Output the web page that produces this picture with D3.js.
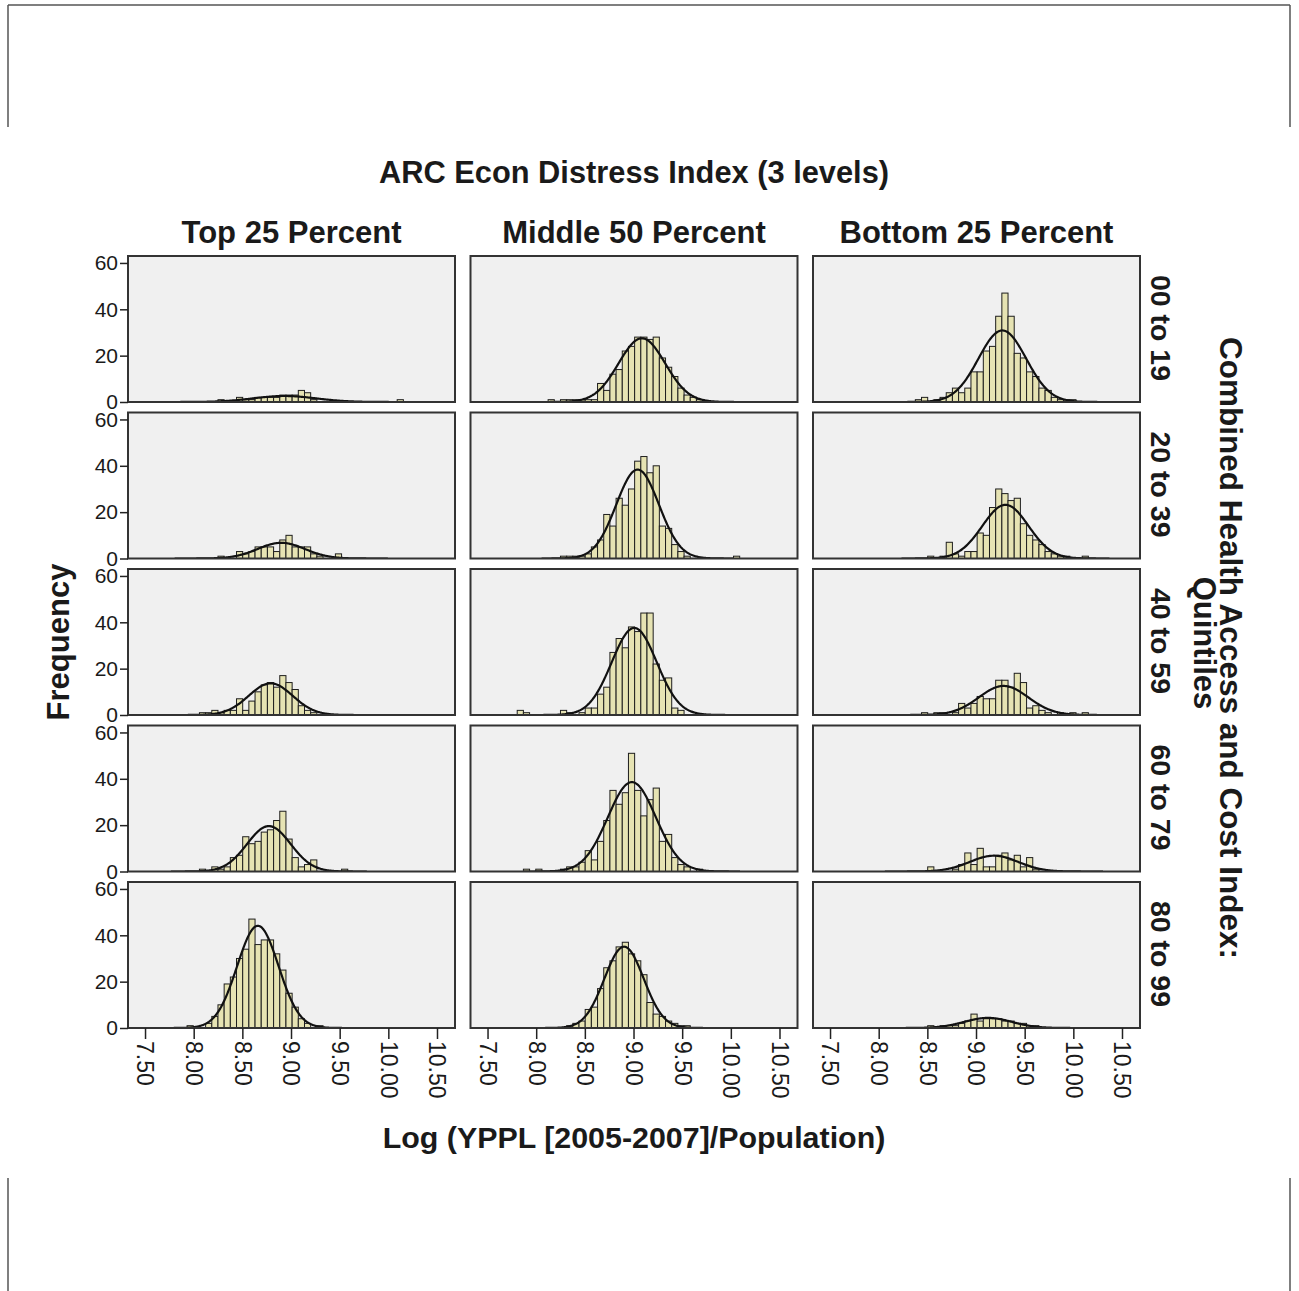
<!DOCTYPE html>
<html>
<head>
<meta charset="utf-8">
<script src="https://cdn.jsdelivr.net/npm/d3@7"></script>
<style>
  body { margin: 0; background: #fff; }
  svg text { font-family: "Liberation Sans", Arial, sans-serif; fill: #1a1a1a; }
</style>
</head>
<body>
<div id="chart"></div>
<script>
// histogram bins are shared by all panels
var binStart = 7.805, binWidth = 0.0635;

var colLabels = ["Top 25 Percent", "Middle 50 Percent", "Bottom 25 Percent"];
var rowLabels = ["00 to 19", "20 to 39", "40 to 59", "60 to 79", "80 to 99"];
var xTicks = [7.5, 8, 8.5, 9, 9.5, 10, 10.5];
var yTicks = [0, 20, 40, 60];

// counts per bin, starting at bin 0 (missing trailing bins = 0)
var r1c1 = [0,0,0,0,0,0,0,1,0,0,2,1,1,2,2,2,2,3,3,3,5,4,1,0,0,0,0,0,0,0,0,0,0,0,0,0,1];
var r1c2 = [0,0,0,0,0,1,0,1,1,1,1,1,1,8,5,12,14,22,24,28,28,27,28,19,15,11,6,3,2,1];
var r1c3 = [0,0,0,0,0,0,0,0,0,1,2,0,1,2,4,6,4,6,13,13,22,24,37,47,37,21,19,13,11,6,5,2,1,1,1];
var r2c1 = [0,0,0,0,0,0,0,1,0,0,3,2,3,5,5,5,3,8,10,5,5,5,2,1,0,0,2];
var r2c2 = [0,0,0,0,0,0,0,1,1,1,1,2,5,8,19,14,26,23,30,42,44,37,40,14,13,6,3,1,0,0,0,0,0,0,0,1];
var r2c3 = [0,0,0,0,0,0,0,0,0,0,0,1,0,1,7,2,1,3,3,11,10,22,30,28,25,26,15,10,8,6,3,2,1,1,0,0,1];
var r3c1 = [0,0,0,0,1,1,2,1,2,2,7,2,6,10,13,14,12,17,14,11,4,2,1];
var r3c2 = [2,1,0,0,0,0,0,2,1,0,1,3,3,9,12,27,33,29,38,36,44,44,22,15,16,3,2];
var r3c3 = [0,0,0,0,0,0,0,0,0,0,1,0,1,1,0,1,5,3,5,8,7,7,15,15,12,18,14,3,4,2,1,0,1,0,1,0,1];
var r4c1 = [0,0,0,0,1,0,2,1,2,6,7,15,12,13,17,18,22,26,14,6,2,3,5,0,0,0,0,1];
var r4c2 = [0,1,0,1,0,0,0,1,2,2,4,9,5,13,22,35,29,34,51,35,24,31,36,13,16,6,3,2,0,1];
var r4c3 = [0,0,0,0,0,0,0,0,0,0,0,2,0,0,0,1,3,8,3,10,2,2,7,8,5,7,2,6,1];
var r5c1 = [0,0,1,0,0,2,5,10,19,22,30,34,47,36,38,38,32,25,15,9,4,2,0,1];
var r5c2 = [0,0,0,0,0,0,0,0,1,2,3,8,9,17,26,29,35,37,32,29,23,11,6,5,3,2,1,1];
var r5c3 = [0,0,0,0,0,0,0,0,0,0,0,1,0,1,1,1,2,3,6,3,4,4,4,3,3,2,2,1,1];

var panels = [
  [r1c1, r1c2, r1c3],
  [r2c1, r2c2, r2c3],
  [r3c1, r3c2, r3c3],
  [r4c1, r4c2, r4c3],
  [r5c1, r5c2, r5c3]
];

var W = 1299, H = 1291;
var left0 = 128, stepX = 342.5, panelW = 327;
var top0 = 256, stepY = 156.5, panelH = 146;

var svg = d3.select("#chart").append("svg")
    .attr("width", W)
    .attr("height", H);

// outer frame pieces
var frame = svg.append("g").attr("stroke", "#555").attr("stroke-width", 1.5);
frame.append("line").attr("x1", 8).attr("y1", 5).attr("x2", 1290).attr("y2", 5);
frame.append("line").attr("x1", 8).attr("y1", 5).attr("x2", 8).attr("y2", 127);
frame.append("line").attr("x1", 1290).attr("y1", 5).attr("x2", 1290).attr("y2", 127);
frame.append("line").attr("x1", 8).attr("y1", 1178).attr("x2", 8).attr("y2", H);
frame.append("line").attr("x1", 1290).attr("y1", 1178).attr("x2", 1290).attr("y2", H);

var x = d3.scaleLinear().domain([7.325, 10.685]).range([0, panelW]);
var y = d3.scaleLinear().domain([0, 63]).range([panelH, 0]);

var line = d3.line()
    .x(function(d) { return x(d[0]); })
    .y(function(d) { return y(d[1]); });

svg.append("defs").append("clipPath").attr("id", "clip")
  .append("rect").attr("width", panelW).attr("height", panelH);

panels.forEach(function(row, r) {
  row.forEach(function(counts, c) {
    var g = svg.append("g")
        .attr("transform", "translate(" + (left0 + c * stepX) + "," + (top0 + r * stepY) + ")");

    g.append("rect")
        .attr("width", panelW)
        .attr("height", panelH)
        .attr("fill", "#f0f0f0");

    var bins = [];
    counts.forEach(function(n, i) {
      if (n > 0) bins.push({x0: binStart + i * binWidth, n: n});
    });

    var inner = g.append("g").attr("clip-path", "url(#clip)");

    inner.selectAll("rect.bar")
      .data(bins)
      .enter().append("rect")
        .attr("class", "bar")
        .attr("x", function(d) { return x(d.x0); })
        .attr("width", function(d) { return x(d.x0 + binWidth) - x(d.x0); })
        .attr("y", function(d) { return y(d.n); })
        .attr("height", function(d) { return y(0) - y(d.n); })
        .attr("fill", "#e6e3b3")
        .attr("stroke", "#1e1e1e")
        .attr("stroke-width", 1);

    // normal curve fitted to the panel's bins
    var N = d3.sum(bins, function(d) { return d.n; });
    var mean = d3.sum(bins, function(d) { return d.n * (d.x0 + binWidth / 2); }) / N;
    var sd = Math.sqrt(d3.sum(bins, function(d) {
      var m = d.x0 + binWidth / 2 - mean;
      return d.n * m * m;
    }) / (N - 1));
    var pts = d3.range(0, 301).map(function(k) {
      var v = mean - 4.5 * sd + k * 9 * sd / 300;
      var z = (v - mean) / sd;
      return [v, N * binWidth * Math.exp(-z * z / 2) / (sd * Math.sqrt(2 * Math.PI))];
    });
    inner.append("path")
        .datum(pts)
        .attr("d", line)
        .attr("fill", "none")
        .attr("stroke", "#111")
        .attr("stroke-width", 2.2);

    g.append("rect")
        .attr("width", panelW)
        .attr("height", panelH)
        .attr("fill", "none")
        .attr("stroke", "#333")
        .attr("stroke-width", 2);

    if (c == 0) {
      var ya = g.append("g")
          .call(d3.axisLeft(y).tickValues(yTicks).tickSize(8).tickPadding(2).tickFormat(d3.format("d")));
      ya.select(".domain").remove();
      ya.selectAll("line").attr("stroke", "#222").attr("stroke-width", 1.5);
      ya.selectAll("text").style("font-size", "21px").attr("fill", "#222");
    }

    if (r == panels.length - 1) {
      var xa = g.append("g")
          .attr("transform", "translate(0," + panelH + ")")
          .call(d3.axisBottom(x).tickValues(xTicks).tickSize(11).tickFormat(d3.format(".2f")));
      xa.select(".domain").remove();
      xa.selectAll("line").attr("stroke", "#222").attr("stroke-width", 1.5);
      xa.selectAll("text")
          .style("font-size", "23px")
          .attr("fill", "#222")
          .attr("transform", "rotate(90)")
          .attr("x", 13)
          .attr("y", 0)
          .attr("dy", "0.35em")
          .style("text-anchor", "start");
    }
  });
});

// titles
svg.append("text")
    .attr("x", 634).attr("y", 183)
    .style("text-anchor", "middle")
    .style("font-size", "30.8px").style("font-weight", "bold")
    .text("ARC Econ Distress Index (3 levels)");

colLabels.forEach(function(t, c) {
  svg.append("text")
      .attr("x", left0 + c * stepX + panelW / 2).attr("y", 243)
      .style("text-anchor", "middle")
      .style("font-size", "31px").style("font-weight", "bold")
      .text(t);
});

rowLabels.forEach(function(t, r) {
  svg.append("text")
      .attr("transform", "translate(1151," + (top0 + r * stepY + panelH / 2 - 1) + ") rotate(90)")
      .style("text-anchor", "middle")
      .style("font-size", "28.5px").style("font-weight", "bold")
      .text(t);
});

svg.append("text")
    .attr("transform", "translate(1220,648) rotate(90)")
    .style("text-anchor", "middle")
    .style("font-size", "31.5px").style("font-weight", "bold")
    .text("Combined Health Access and Cost Index:");
svg.append("text")
    .attr("transform", "translate(1194,643) rotate(90)")
    .style("text-anchor", "middle")
    .style("font-size", "31px").style("font-weight", "bold")
    .text("Quintiles");

svg.append("text")
    .attr("transform", "translate(69,642) rotate(-90)")
    .style("text-anchor", "middle")
    .style("font-size", "31px").style("font-weight", "bold")
    .text("Frequency");

svg.append("text")
    .attr("x", 634).attr("y", 1148)
    .style("text-anchor", "middle")
    .style("font-size", "30.4px").style("font-weight", "bold")
    .text("Log (YPPL [2005-2007]/Population)");
</script>
</body>
</html>
